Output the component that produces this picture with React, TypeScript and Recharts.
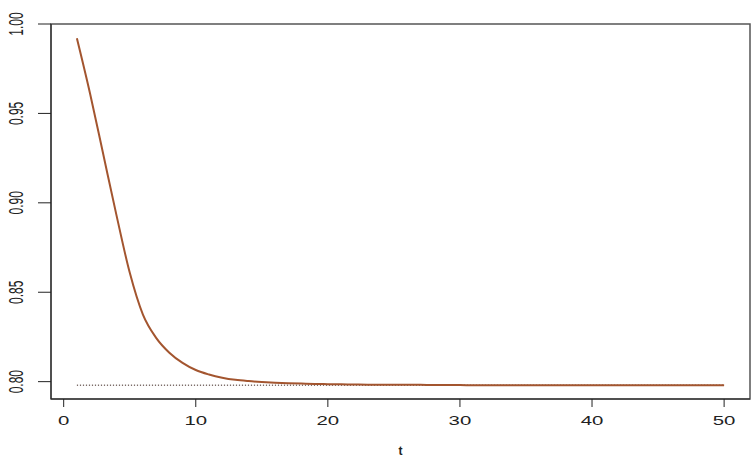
import { LineChart, Line, XAxis, YAxis, ReferenceArea } from 'recharts';

// curve values, t = 1..50
const curve = [
  0.992, 0.961, 0.927, 0.893, 0.861, 0.8375, 0.8245, 0.8162, 0.8105, 0.8065,
  0.804, 0.8022, 0.801, 0.8003, 0.7998, 0.7994, 0.7991, 0.7989, 0.7987, 0.7986,
  0.7985, 0.7984, 0.7983, 0.7983, 0.7982, 0.7982, 0.7982, 0.7981, 0.7981, 0.7981,
  0.798, 0.798, 0.798, 0.798, 0.798, 0.798, 0.798, 0.798, 0.798, 0.798,
  0.798, 0.798, 0.798, 0.798, 0.798, 0.798, 0.798, 0.798, 0.798, 0.798,
];
const limit = 0.798;

const xTicks = [0, 10, 20, 30, 40, 50];
const yTicks = [0.8, 0.85, 0.9, 0.95, 1.0];

const data = curve.map((v, i) => ({ t: i + 1, value: v, limit }));

const XTick = ({ x, y, payload }: any) => (
  <text
    transform={`translate(${x},${y + 16}) scale(1.7,1)`}
    textAnchor="middle"
    fontSize={12}
    fontFamily="Liberation Sans, Arial, sans-serif"
    fill="#222"
  >
    {payload.value}
  </text>
);

const YTick = ({ x, y, payload }: any) => (
  <text
    transform={`translate(${x - 20},${y}) scale(1.7,1) rotate(-90)`}
    textAnchor="middle"
    dy="0.35em"
    fontSize={12}
    fontFamily="Liberation Sans, Arial, sans-serif"
    fill="#222"
  >
    {payload.value.toFixed(2)}
  </text>
);

export default function App() {
  return (
    <div style={{ position: 'absolute', left: 0, top: 0, background: '#fff' }}>
      <LineChart width={753} height={465} data={data} margin={{ top: 24, right: 3, bottom: 0, left: 0 }}>
        <XAxis
          dataKey="t"
          type="number"
          domain={[-0.96, 51.96]}
          ticks={xTicks}
          allowDataOverflow
          height={66}
          tickSize={8}
          stroke="#222"
          tick={<XTick />}
          label={{
            value: 't',
            position: 'insideBottom',
            offset: 10,
            fontSize: 12,
            fontWeight: 'bold',
            fontFamily: 'Liberation Sans, Arial, sans-serif',
            fill: '#222',
          }}
        />
        <YAxis
          type="number"
          domain={[0.7903, 1.0]}
          ticks={yTicks}
          allowDataOverflow
          width={51}
          tickSize={13}
          stroke="#222"
          tick={<YTick />}
        />
        <ReferenceArea
          x1={-0.96}
          x2={51.96}
          y1={0.7903}
          y2={1.0}
          fill="none"
          stroke="#555"
          strokeWidth={1.5}
          ifOverflow="visible"
        />
        <Line
          dataKey="limit"
          stroke="#7d6e6a"
          strokeWidth={1.5}
          strokeDasharray="1.2 1.8"
          dot={false}
          isAnimationActive={false}
        />
        <Line
          dataKey="value"
          stroke="#a3552f"
          strokeWidth={2}
          dot={false}
          type="monotone"
          isAnimationActive={false}
        />
      </LineChart>
    </div>
  );
}
